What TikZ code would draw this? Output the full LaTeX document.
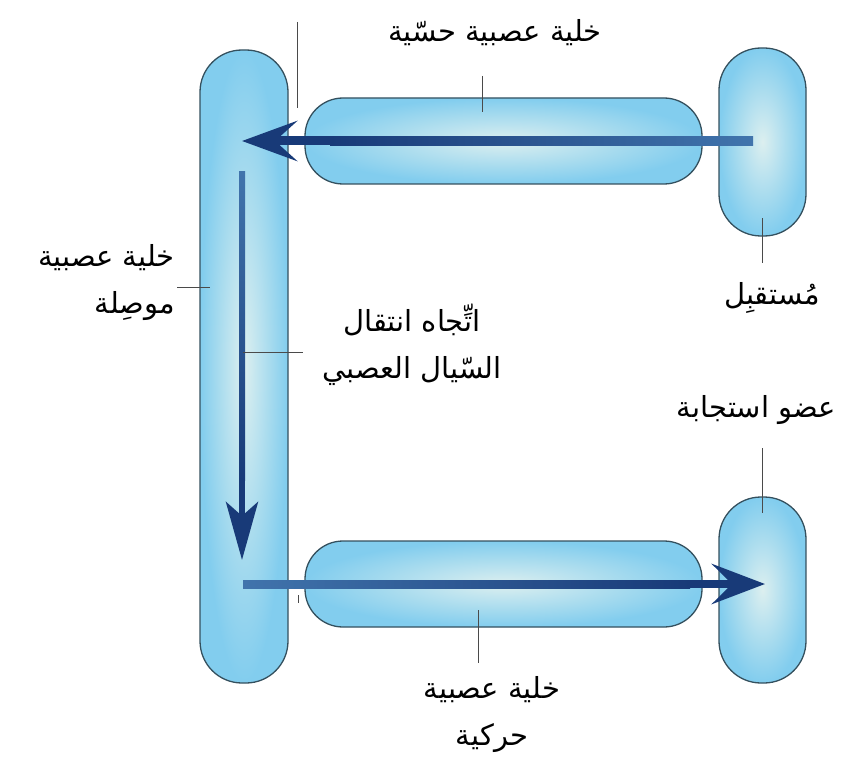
\documentclass[tikz,border=0pt]{standalone}
\usepackage{fontspec}
\newfontfamily\arabicfont[Script=Arabic]{DejaVu Sans}
\TeXXeTstate=1
\usetikzlibrary{arrows.meta}
\definecolor{cellouter}{HTML}{82CDEE}
\definecolor{cellinner}{HTML}{DCEFEF}
\definecolor{cellline}{HTML}{34505E}
\definecolor{flow}{HTML}{183A78}
\definecolor{flowlight}{HTML}{4174AC}
\definecolor{leadercol}{HTML}{4A4A4A}
\begin{document}
\begin{tikzpicture}[x=1pt,y=-1pt,
  cell/.style={draw=cellline, line width=1.3pt, shading=radial, inner color=cellinner, outer color=cellouter, rounded corners=#1, inner sep=0pt, rectangle},
  flowarrow/.style={draw=flow, line width=#1},
  leaderline/.style={draw=leadercol, line width=0.9pt},
  lbl/.style={font=\arabicfont\fontsize{29}{47}\selectfont, inner sep=0pt, text=black}
]
\useasboundingbox (0,0) rectangle (841,765);

% cells
\node[cell=42pt, minimum width=88pt, minimum height=633pt] (inter) at (244,366.5) {};
\node[cell=38pt, minimum width=397pt, minimum height=86pt] (sensory) at (503.5,141) {};
\node[cell=42pt, minimum width=87pt, minimum height=188pt] (receptor) at (762.5,142) {};
\node[cell=38pt, minimum width=397pt, minimum height=86pt] (motor) at (503.5,584) {};
\node[cell=42pt, minimum width=87pt, minimum height=186pt] (effector) at (762.5,590) {};

% arrows
\coordinate (a1s) at (753,141);
\coordinate (a1e) at (242,141);
\coordinate (a2s) at (242,172);
\coordinate (a2e) at (242,560);
\coordinate (a3s) at (243,584);
\coordinate (a3e) at (765,584);
\draw[flowarrow=9pt, -{Stealth[length=55pt,width=40pt,inset=22pt]}] (a1s) -- (a1e);
\draw[flowarrow=6pt, -{Stealth[length=58pt,width=32pt,inset=14pt]}] (a2s) -- (a2e);
\draw[flowarrow=8pt, -{Stealth[length=53pt,width=40pt,inset=20pt]}] (a3s) -- (a3e);
% shaft shading (lighter towards the tails)
\shade[left color=flow, right color=flowlight] (330,136.5) rectangle (753,145.5);
\shade[top color=flowlight, bottom color=flow] (239,172) rectangle (245,480);
\shade[left color=flowlight, right color=flow] (243,580) rectangle (690,588);

% labels
\node[lbl] (lsens) at (495,33) {\beginR خلية عصبية حسّية\endR};
\node[lbl] (lrec) at (772,298) {\beginR مُستقبِل\endR};
\node[lbl, anchor=east, align=right] (linter) at (175,283) {\beginR خلية عصبية\endR\\\beginR موصِلة\endR};
\node[lbl, align=center] (ldir) at (412,345) {\beginR اتِّجاه انتقال\endR\\\beginR السّيال العصبي\endR};
\node[lbl, anchor=east] (leff) at (836,410) {\beginR عضو استجابة\endR};
\node[lbl, align=center] (lmot) at (492,715) {\beginR خلية عصبية\endR\\\beginR حركية\endR};

% leaders
\coordinate (c1a) at (482,76);  \coordinate (c1b) at (482,112);
\coordinate (c2a) at (297,22);  \coordinate (c2b) at (297,108);
\coordinate (c3a) at (762,218); \coordinate (c3b) at (762,263);
\coordinate (c4a) at (177,287); \coordinate (c4b) at (210,287);
\coordinate (c5a) at (243,352); \coordinate (c5b) at (303,352);
\coordinate (c6a) at (762,448); \coordinate (c6b) at (762,513);
\coordinate (c7a) at (478,610); \coordinate (c7b) at (478,663);
\coordinate (c8a) at (298,595); \coordinate (c8b) at (298,603);
\draw[leaderline] (c1a) -- (c1b);
\draw[leaderline] (c2a) -- (c2b);
\draw[leaderline] (c3a) -- (c3b);
\draw[leaderline] (c4a) -- (c4b);
\draw[leaderline] (c5a) -- (c5b);
\draw[leaderline] (c6a) -- (c6b);
\draw[leaderline] (c7a) -- (c7b);
\draw[leaderline] (c8a) -- (c8b);
\end{tikzpicture}
\end{document}
